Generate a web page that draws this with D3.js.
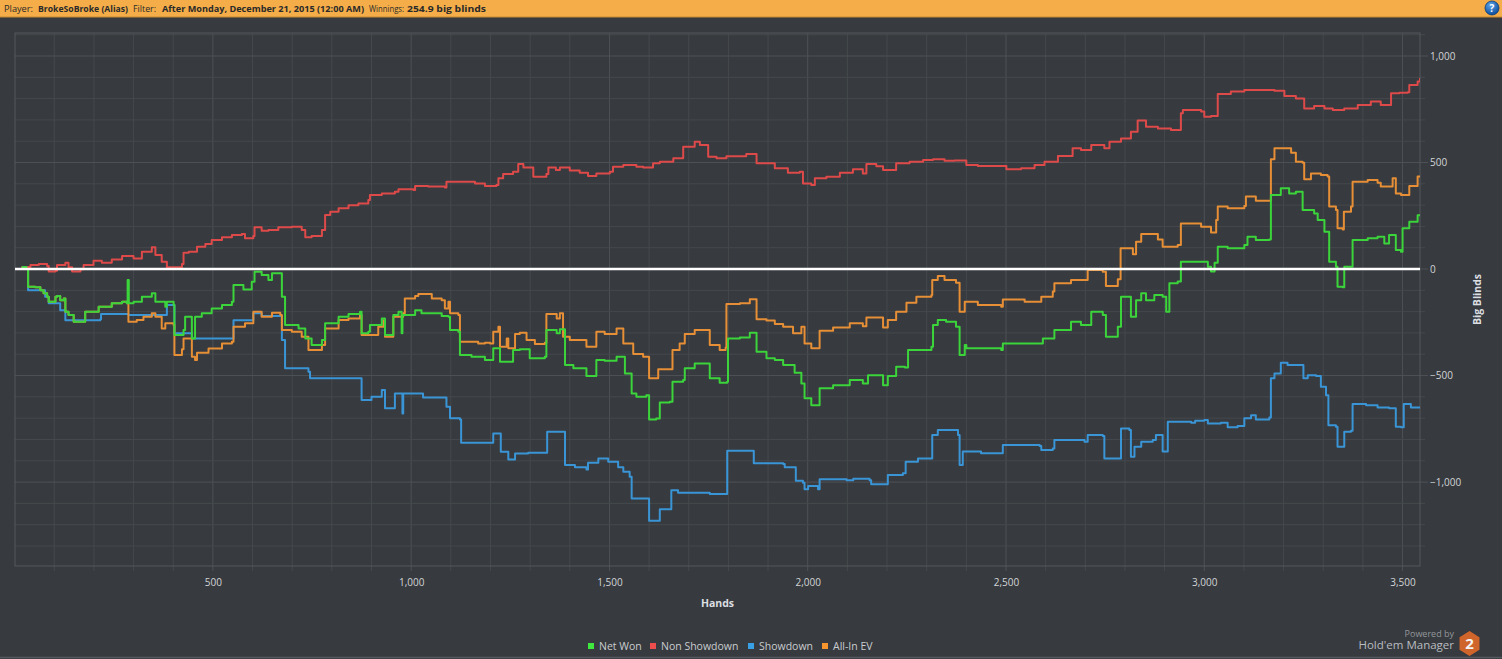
<!DOCTYPE html>
<html>
<head>
<meta charset="utf-8">
<script src="https://cdn.jsdelivr.net/npm/d3@7"></script>
<style>
  body { margin: 0; background: #373a3e; overflow: hidden; }
  svg { display: block; font-family: "Open Sans", "DejaVu Sans", sans-serif; }
</style>
</head>
<body>
<svg id="graph"></svg>
<script>
// Data: [hand, big blinds]
const netWon = [[1,0],[20,10],[30,0],[34,-83],[52,-86],[65,-99],[73,-114],[82,-130],[86,-153],[103,-130],[107,-127],[115,-146],[124,-138],[128,-200],[136,-216],[149,-247],[178,-200],[212,-177],[245,-161],[271,-153],[283,-161],[285,-52],[288,-161],[300,-153],[321,-130],[346,-114],[355,-153],[380,-177],[384,-153],[401,-169],[403,-310],[426,-286],[430,-224],[443,-224],[447,-326],[455,-224],[472,-208],[497,-185],[523,-169],[548,-153],[552,-75],[577,-96],[598,-60],[605,-13],[623,-28],[640,-52],[649,-20],[670,-20],[674,-130],[682,-263],[716,-279],[733,-326],[749,-357],[775,-333],[783,-255],[817,-224],[842,-211],[871,-200],[875,-302],[892,-294],[896,-263],[917,-263],[926,-232],[934,-310],[951,-310],[955,-216],[968,-200],[975,-200],[976,-302],[978,-216],[1010,-193],[1026,-208],[1077,-221],[1094,-224],[1098,-286],[1119,-294],[1123,-404],[1152,-412],[1186,-427],[1199,-427],[1207,-372],[1220,-372],[1224,-435],[1245,-435],[1257,-380],[1274,-377],[1299,-419],[1337,-412],[1341,-286],[1367,-302],[1375,-283],[1388,-451],[1409,-466],[1442,-502],[1467,-427],[1488,-430],[1518,-412],[1539,-490],[1556,-584],[1568,-599],[1593,-592],[1600,-706],[1618,-702],[1627,-627],[1652,-623],[1659,-529],[1686,-521],[1690,-466],[1715,-443],[1753,-513],[1778,-534],[1797,-529],[1799,-326],[1829,-321],[1854,-299],[1871,-388],[1896,-419],[1917,-427],[1938,-451],[1967,-487],[1984,-537],[1992,-607],[2009,-639],[2030,-560],[2064,-545],[2106,-521],[2139,-537],[2152,-498],[2190,-545],[2202,-502],[2223,-459],[2245,-462],[2253,-380],[2274,-380],[2312,-365],[2316,-263],[2328,-239],[2349,-247],[2374,-271],[2383,-404],[2396,-357],[2400,-372],[2429,-372],[2488,-380],[2492,-349],[2555,-349],[2593,-326],[2622,-286],[2664,-247],[2689,-263],[2715,-200],[2744,-216],[2752,-318],[2782,-271],[2790,-130],[2811,-130],[2815,-224],[2828,-146],[2841,-114],[2853,-146],[2874,-122],[2895,-130],[2904,-200],[2912,-67],[2933,-59],[2941,34],[2975,34],[3009,11],[3017,-12],[3026,30],[3034,105],[3059,97],[3101,113],[3109,152],[3130,136],[3164,139],[3168,347],[3193,379],[3214,355],[3231,363],[3248,277],[3277,261],[3286,230],[3303,175],[3315,34],[3332,11],[3336,-83],[3349,-86],[3353,11],[3370,11],[3374,136],[3412,144],[3437,152],[3454,120],[3466,160],[3480,160],[3483,89],[3496,81],[3500,191],[3517,222],[3538,253],[3544,255]];

const nonShowdown = [[1,0],[20,10],[40,19],[61,24],[82,14],[86,-12],[103,-8],[107,19],[128,30],[136,8],[145,-12],[166,-1],[174,19],[199,39],[220,30],[245,45],[271,61],[300,50],[321,81],[346,102],[355,66],[371,34],[384,8],[405,8],[422,24],[426,77],[439,81],[460,105],[481,117],[497,136],[523,149],[548,160],[573,164],[581,144],[602,155],[605,196],[623,180],[640,183],[665,196],[699,199],[724,183],[733,149],[749,155],[775,183],[783,254],[796,269],[817,285],[842,300],[867,308],[892,324],[896,347],[926,355],[959,363],[968,374],[1006,371],[1010,390],[1043,387],[1085,383],[1089,410],[1127,410],[1161,402],[1186,390],[1215,394],[1220,426],[1232,446],[1257,457],[1270,493],[1283,477],[1308,433],[1341,446],[1346,477],[1365,465],[1375,477],[1400,462],[1425,452],[1446,437],[1467,449],[1501,457],[1509,480],[1535,488],[1568,480],[1585,477],[1610,496],[1627,504],[1661,520],[1686,574],[1715,598],[1728,582],[1749,527],[1770,520],[1795,530],[1845,540],[1871,496],[1896,496],[1917,473],[1950,452],[1980,457],[1988,402],[2009,394],[2018,426],[2047,433],[2081,452],[2114,468],[2139,449],[2148,493],[2173,483],[2190,465],[2223,496],[2257,504],[2291,512],[2316,515],[2345,508],[2370,509],[2400,488],[2429,484],[2471,484],[2501,468],[2538,473],[2572,488],[2597,504],[2631,531],[2668,567],[2689,559],[2715,582],[2748,567],[2761,598],[2790,613],[2815,645],[2832,697],[2853,668],[2883,660],[2916,653],[2937,653],[2941,731],[2946,747],[2992,739],[3000,715],[3017,718],[3034,822],[3067,833],[3101,840],[3177,837],[3202,812],[3231,801],[3252,754],[3277,765],[3303,754],[3324,747],[3353,754],[3387,770],[3420,786],[3445,770],[3471,825],[3492,828],[3513,830],[3517,864],[3538,880],[3544,897]];

const showdown = [[1,0],[30,0],[34,-99],[77,-130],[86,-161],[113,-161],[115,-193],[128,-240],[216,-236],[218,-211],[279,-211],[287,-216],[380,-216],[384,-169],[401,-169],[403,-302],[443,-302],[447,-326],[548,-326],[552,-240],[590,-240],[602,-208],[623,-221],[670,-221],[674,-333],[682,-466],[741,-482],[745,-513],[871,-513],[875,-615],[900,-600],[926,-568],[934,-654],[955,-654],[959,-584],[976,-584],[978,-678],[980,-584],[1026,-584],[1030,-603],[1081,-603],[1089,-646],[1098,-701],[1123,-706],[1126,-815],[1205,-815],[1207,-772],[1222,-772],[1226,-858],[1245,-894],[1257,-894],[1262,-866],[1295,-862],[1341,-862],[1343,-764],[1382,-764],[1388,-920],[1413,-931],[1442,-941],[1446,-909],[1472,-889],[1497,-905],[1522,-931],[1535,-952],[1551,-975],[1556,-1077],[1593,-1077],[1600,-1182],[1623,-1182],[1627,-1128],[1652,-1128],[1656,-1038],[1673,-1050],[1745,-1050],[1753,-1056],[1795,-1056],[1797,-853],[1862,-853],[1864,-912],[1938,-915],[1942,-931],[1963,-931],[1970,-994],[1988,-1003],[1992,-1034],[2001,-1019],[2026,-1034],[2030,-987],[2098,-991],[2115,-985],[2156,-991],[2160,-1010],[2194,-1010],[2202,-967],[2240,-959],[2247,-905],[2278,-889],[2312,-889],[2314,-779],[2328,-756],[2358,-756],[2379,-779],[2383,-920],[2391,-857],[2437,-865],[2488,-865],[2492,-826],[2585,-831],[2589,-850],[2618,-842],[2622,-803],[2698,-811],[2706,-779],[2744,-784],[2748,-889],[2786,-889],[2790,-748],[2811,-756],[2815,-881],[2824,-834],[2841,-811],[2870,-803],[2878,-779],[2895,-857],[2904,-857],[2908,-717],[2967,-721],[2977,-712],[3000,-709],[3009,-725],[3042,-721],[3059,-743],[3084,-737],[3101,-701],[3118,-686],[3130,-706],[3164,-697],[3168,-513],[3177,-490],[3193,-440],[3210,-451],[3244,-451],[3250,-513],[3261,-498],[3282,-502],[3294,-553],[3307,-592],[3313,-733],[3332,-740],[3336,-834],[3349,-834],[3353,-764],[3370,-759],[3374,-634],[3408,-639],[3437,-650],[3466,-654],[3483,-740],[3496,-743],[3503,-634],[3521,-650],[3544,-650]];

// All-in EV matches Net Won until the first all-in around hand 285
const allInEV = [[1,0],[20,10],[30,0],[34,-83],[52,-86],[65,-99],[73,-114],[82,-130],[86,-153],[103,-130],[107,-127],[115,-146],[124,-138],[128,-200],[136,-216],[149,-247],[178,-200],[212,-177],[245,-161],[271,-153],[283,-161],[287,-247],[308,-239],[325,-224],[346,-208],[355,-224],[371,-279],[380,-255],[401,-263],[403,-404],[422,-377],[426,-326],[443,-326],[447,-412],[455,-427],[460,-393],[489,-373],[523,-349],[548,-341],[552,-271],[581,-255],[602,-200],[623,-224],[649,-205],[670,-216],[674,-286],[699,-294],[724,-318],[741,-380],[775,-357],[783,-279],[817,-239],[842,-232],[871,-216],[875,-310],[892,-310],[917,-271],[930,-240],[934,-318],[951,-318],[955,-224],[980,-208],[984,-138],[1010,-127],[1018,-117],[1052,-138],[1077,-146],[1085,-185],[1094,-153],[1098,-208],[1119,-216],[1123,-341],[1152,-341],[1169,-349],[1186,-346],[1199,-349],[1207,-294],[1220,-271],[1224,-365],[1241,-326],[1245,-372],[1262,-305],[1274,-299],[1291,-333],[1312,-352],[1337,-346],[1341,-211],[1367,-232],[1375,-208],[1383,-318],[1400,-333],[1442,-365],[1467,-294],[1488,-305],[1518,-279],[1535,-349],[1560,-399],[1585,-412],[1600,-513],[1623,-471],[1652,-471],[1659,-380],[1677,-349],[1690,-305],[1715,-286],[1753,-357],[1778,-380],[1793,-368],[1795,-164],[1829,-161],[1854,-142],[1871,-236],[1896,-242],[1917,-258],[1938,-271],[1963,-302],[1984,-271],[1992,-349],[2009,-372],[2030,-290],[2064,-274],[2106,-255],[2139,-268],[2148,-227],[2190,-274],[2202,-239],[2223,-200],[2249,-158],[2274,-130],[2312,-122],[2314,-52],[2328,-33],[2345,-52],[2374,-64],[2383,-200],[2396,-153],[2429,-169],[2488,-177],[2492,-143],[2547,-153],[2589,-130],[2618,-106],[2622,-67],[2664,-52],[2689,-52],[2706,-5],[2744,-13],[2752,-80],[2782,-48],[2789,97],[2815,97],[2820,70],[2828,128],[2841,164],[2883,139],[2895,105],[2933,113],[2941,214],[2975,214],[2992,199],[3017,171],[3030,230],[3034,293],[3059,285],[3101,296],[3105,340],[3130,321],[3164,321],[3168,515],[3177,567],[3193,567],[3219,546],[3231,504],[3248,499],[3252,421],[3269,449],[3294,441],[3311,434],[3315,293],[3332,277],[3336,191],[3349,186],[3352,269],[3370,293],[3374,410],[3412,418],[3437,405],[3445,387],[3475,426],[3483,355],[3496,347],[3517,390],[3538,434],[3544,437]];

const seriesNames = ["Net Won", "Non Showdown", "Showdown", "All-In EV"];
const seriesColors = ["#3bd43b", "#de4a4a", "#3a95d6", "#e68f36"];
const legendColors = ["#3ee83e", "#ee4d4d", "#3aa0e6", "#f7962f"];

const handTicks = d3.range(100, 3501, 100);
const bbTicks = d3.range(-1300, 1101, 100);

// Layout
const W = 1502, H = 659;
const plot = { left: 15, right: 1420, top: 33, bottom: 566 };

const svg = d3.select("#graph").attr("width", W).attr("height", H);

svg.append("rect").attr("width", W).attr("height", H).attr("fill", "#373a3e");

// Scales
const x = d3.scaleLinear().domain([1, 3544]).range([plot.left, plot.right]);
const y = d3.scaleLinear().domain([-1394, 1108]).range([plot.bottom, plot.top]);

// Header bar
const header = svg.append("g");
header.append("rect").attr("width", W).attr("height", 17).attr("fill", "#f4ad48");
header.append("line").attr("x1", 0).attr("x2", W).attr("y1", 17).attr("y2", 17)
    .attr("stroke", "#c98a33").attr("stroke-width", 1);

// each part fitted to the width it takes in the original
const headerParts = [
    { x: 4, w: 29, t: "Player:", b: false },
    { x: 38, w: 90, t: "BrokeSoBroke (Alias)", b: true },
    { x: 133, w: 23, t: "Filter:", b: false },
    { x: 162, w: 202, t: "After Monday, December 21, 2015 (12:00 AM)", b: true },
    { x: 369, w: 35, t: "Winnings:", b: false },
    { x: 407, w: 79, t: "254.9 big blinds", b: true }
];
header.selectAll("text.h").data(headerParts).enter().append("text")
    .attr("class", "h")
    .attr("x", d => d.x)
    .attr("y", 12)
    .attr("textLength", d => d.w)
    .attr("lengthAdjust", "spacingAndGlyphs")
    .style("font-size", "8.8px")
    .style("font-weight", d => d.b ? "bold" : "normal")
    .style("fill", "#2a2a2a")
    .text(d => d.t);

// help icon
const grad = svg.append("defs").append("radialGradient").attr("id", "helpGrad")
    .attr("cx", "40%").attr("cy", "30%").attr("r", "70%");
grad.append("stop").attr("offset", "0%").attr("stop-color", "#5fa3e8");
grad.append("stop").attr("offset", "100%").attr("stop-color", "#0b4f9e");
svg.append("circle").attr("cx", 1492).attr("cy", 8).attr("r", 7)
    .attr("fill", "url(#helpGrad)").attr("stroke", "#0a3c7a").attr("stroke-width", 0.8);
svg.append("text").attr("x", 1492).attr("y", 11.5).attr("text-anchor", "middle")
    .style("font-size", "10px").style("font-weight", "bold").style("fill", "#fff").text("?");

// Grid lines (every 100 hands / 100 bb, brighter every 500)
const grid = svg.append("g");
grid.selectAll("line.vx").data(handTicks).enter().append("line")
    .attr("class", "vx")
    .attr("x1", d => x(d)).attr("x2", d => x(d))
    .attr("y1", plot.top).attr("y2", plot.bottom + 5)
    .attr("stroke", d => d % 500 === 0 ? "#4e5257" : "#45494d")
    .attr("stroke-width", 1);

grid.selectAll("line.hy").data(bbTicks).enter().append("line")
    .attr("class", "hy")
    .attr("x1", plot.left).attr("x2", d => d % 500 === 0 ? plot.right + 8 : plot.right + 5)
    .attr("y1", d => y(d)).attr("y2", d => y(d))
    .attr("stroke", d => d % 500 === 0 ? "#4e5257" : "#45494d")
    .attr("stroke-width", 1);

// plot frame
svg.append("rect")
    .attr("x", plot.left).attr("y", plot.top)
    .attr("width", plot.right - plot.left).attr("height", plot.bottom - plot.top)
    .attr("fill", "none").attr("stroke", "#54585d").attr("stroke-width", 1);

// Axes (labels only)
const xAxis = svg.append("g")
    .attr("transform", `translate(0,${plot.bottom})`)
    .call(d3.axisBottom(x).tickValues(handTicks.filter(d => d % 500 === 0))
        .tickSize(0).tickPadding(13).tickFormat(d3.format(",")));
xAxis.select(".domain").remove();
xAxis.selectAll("text").style("font-size", "10px").style("fill", "#d2d5d8")
    .style("font-family", "'Open Sans', sans-serif");

const yAxis = svg.append("g")
    .attr("transform", `translate(${plot.right},0)`)
    .call(d3.axisRight(y).tickValues([-1000, -500, 0, 500, 1000])
        .tickSize(0).tickPadding(10).tickFormat(d3.format(",")));
yAxis.select(".domain").remove();
yAxis.selectAll("text").style("font-size", "10px").style("fill", "#d2d5d8")
    .style("font-family", "'Open Sans', sans-serif");

// Axis titles
svg.append("text")
    .attr("x", (plot.left + plot.right) / 2 + 0)
    .attr("y", 607)
    .attr("text-anchor", "middle")
    .style("font-size", "10.5px").style("font-weight", "bold").style("fill", "#dcdfe2")
    .text("Hands");

svg.append("text")
    .attr("transform", `translate(1481,${(plot.top + plot.bottom) / 2}) rotate(-90)`)
    .attr("text-anchor", "middle")
    .style("font-size", "10.5px").style("font-weight", "bold").style("fill", "#dcdfe2")
    .text("Big Blinds");

// Lines
svg.append("clipPath").attr("id", "clip").append("rect")
    .attr("x", plot.left).attr("y", plot.top)
    .attr("width", plot.right - plot.left).attr("height", plot.bottom - plot.top);

const line = d3.line()
    .x(d => x(d[0]))
    .y(d => y(d[1]))
    .curve(d3.curveStepAfter);

const lines = svg.append("g").attr("clip-path", "url(#clip)");
const allSeries = [netWon, nonShowdown, showdown, allInEV];
// draw order: showdown, all-in EV, non showdown, then net won on top
[2, 3, 1, 0].forEach(i => {
    lines.append("path")
        .datum(allSeries[i])
        .attr("d", line)
        .attr("fill", "none")
        .attr("stroke", seriesColors[i])
        .attr("stroke-width", 2)
        .attr("stroke-linejoin", "round");
});

// zero line
svg.append("line")
    .attr("x1", plot.left).attr("x2", plot.right)
    .attr("y1", y(0)).attr("y2", y(0))
    .attr("stroke", "#ffffff").attr("stroke-width", 2.5);

// Legend
const legendX = [588, 650, 748, 822];
const legend = svg.append("g");
seriesNames.forEach((name, i) => {
    legend.append("rect")
        .attr("x", legendX[i]).attr("y", 643)
        .attr("width", 6).attr("height", 6)
        .attr("fill", legendColors[i]);
    legend.append("text")
        .attr("x", legendX[i] + 11).attr("y", 650)
        .style("font-size", "10.5px").style("fill", "#c9ccd0")
        .text(name);
});

// Powered by logo
svg.append("text").attr("x", 1454).attr("y", 637).attr("text-anchor", "end")
    .style("font-size", "9px").style("fill", "#93979b").text("Powered by");
svg.append("text").attr("x", 1454).attr("y", 649).attr("text-anchor", "end")
    .style("font-size", "11.5px").style("fill", "#b9bcc0").text("Hold'em Manager");

const hx = 1469.5, hy = 643.5, hr = 12.5;
const hexPts = d3.range(6).map(k => {
    const a = Math.PI / 3 * k - Math.PI / 2;
    return [hx + hr * Math.cos(a) * 0.92, hy + hr * Math.sin(a)];
});
svg.append("polygon")
    .attr("points", hexPts.map(p => p.join(",")).join(" "))
    .attr("fill", "#d0652b");
svg.append("text").attr("x", hx).attr("y", hy + 5.5).attr("text-anchor", "middle")
    .style("font-size", "15px").style("font-weight", "bold").style("fill", "#f4f4f4")
    .text("2");

// bottom edge
svg.append("line").attr("x1", 0).attr("x2", W).attr("y1", 657.5).attr("y2", 657.5)
    .attr("stroke", "#54585c").attr("stroke-width", 1.5);
</script>
</body>
</html>
